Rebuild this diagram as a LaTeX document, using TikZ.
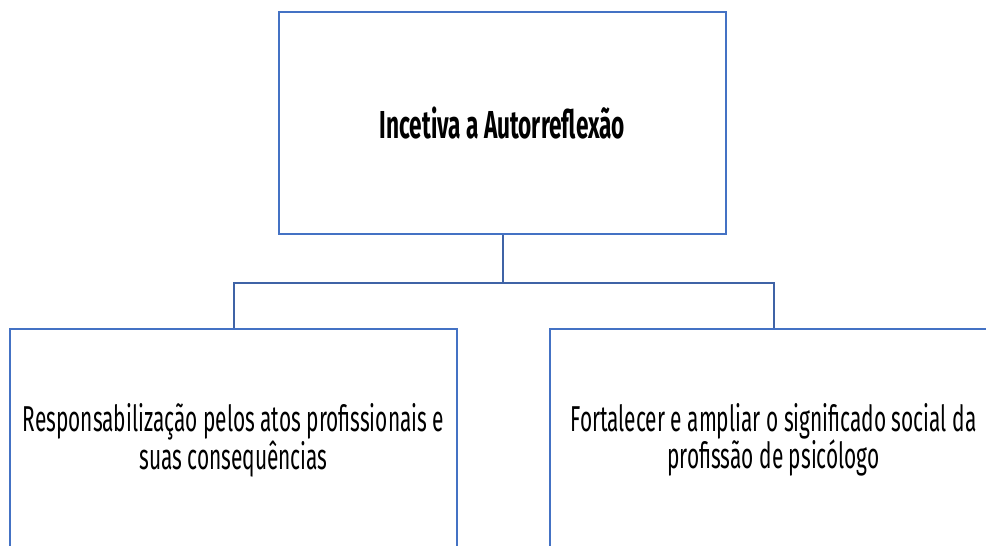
\documentclass[tikz,border=0pt]{standalone}
\usepackage{fontspec}
\setmainfont{Fira Sans}[FakeStretch=0.58]
\usepackage{tikz}
\usetikzlibrary{positioning}
\definecolor{boxblue}{HTML}{4472C4}
\definecolor{lineblue}{HTML}{3F63A6}
\tikzset{
  every picture/.style = {
    x = 1pt,
    y = -1pt,
  }
  ,
  topic/.style = {
    rectangle,
    draw = boxblue,
    line width = 2pt,
    minimum width = 447pt,
    minimum height = 222pt,
    inner sep = 0pt,
    align = center,
    font = \fontsize{36}{32}\selectfont
  }
  , % title of the root box
  root-text/.style = {
    font = \fontsize{39}{34}\selectfont\bfseries
  }
  , % connectors of the tree
  branch/.style = {
    draw = lineblue,
    line width = 2pt
  }
}
\begin{document}
\begin{tikzpicture}
		\clip (0,0) rectangle (986,546);
		\node[topic,root-text] at (502.5,123) (root) {Incetiva a Autorreflexão};
		\node[topic] at (233.5,440) (resp) {Responsabilização pelos atos profissionais e\\suas consequências};
		\node[topic] at (773.5,440) (fort) {Fortalecer e ampliar o significado social da\\profissão de psicólogo};
		\coordinate[below = 48pt of root] (fork);
		\path[branch] (root.south) -- (fork) -| (resp.north);
		\path[branch] (fork) -| (fort.north);
		\end{tikzpicture}
\end{document}
